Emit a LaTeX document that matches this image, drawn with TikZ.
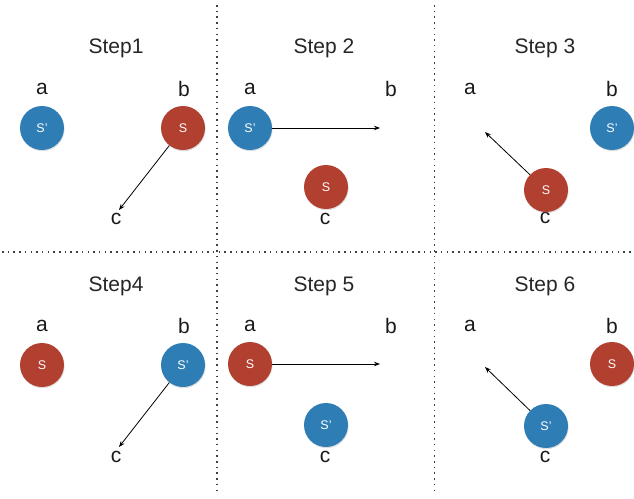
\documentclass[tikz,border=0pt]{standalone}
\usepackage{fontspec}
\setmainfont{Liberation Sans}
\usetikzlibrary{arrows.meta,shadows}
\definecolor{sblue}{RGB}{46,125,180}
\definecolor{sred}{RGB}{178,64,48}
\tikzset{
  ball/.style={circle,minimum size=44pt,inner sep=0pt,text=white,font=\fontsize{12.5}{14}\selectfont,
    drop shadow={opacity=0.25,shadow xshift=0.6pt,shadow yshift=-1.2pt}},
  blueball/.style={ball,fill=sblue},
  redball/.style={ball,fill=sred},
  title/.style={font=\fontsize{21}{25}\selectfont,text=black!85},
  lbl/.style={font=\fontsize{21}{25}\selectfont,text=black!90},
  arr/.style={-{Stealth[length=6pt,width=4.5pt]},line width=0.8pt},
  sep/.style={line width=1.5pt,black!75,dash pattern=on 1.5pt off 4.2pt}
}
\begin{document}
\begin{tikzpicture}[x=1pt,y=-1pt]
\useasboundingbox (0,0) rectangle (634,498);
% separators
\coordinate (v1t) at (217,5); \coordinate (v1b) at (217,492);
\coordinate (v2t) at (434.5,5); \coordinate (v2b) at (434.5,492);
\coordinate (hl) at (2,252); \coordinate (hr) at (634,252);
\draw[sep] (v1t) -- (v1b);
\draw[sep] (v2t) -- (v2b);
\draw[sep] (hl) -- (hr);
% Step 1
\node[title] (t1) at (116,48) {Step1};
\node[lbl] (la1) at (42,89) {a};
\node[lbl] (lb1) at (184,89) {b};
\node[lbl] (lc1) at (116,219) {c};
\node[blueball] (a1) at (42,128) {S'};
\node[redball] (b1) at (183,128) {S};
\coordinate (e1) at (119,210);
\draw[arr] (b1) -- (e1);
% Step 2
\node[title] (t2) at (324,48) {Step 2};
\node[lbl] (la2) at (250,89) {a};
\node[lbl] (lb2) at (391,89) {b};
\node[lbl] (lc2) at (325,219) {c};
\node[blueball] (a2) at (250,128) {S'};
\node[redball] (c2) at (326,187) {S};
\coordinate (e2) at (380,128);
\draw[arr] (a2) -- (e2);
% Step 3
\node[title] (t3) at (545,48) {Step 3};
\node[lbl] (la3) at (470,89) {a};
\node[lbl] (lb3) at (612,89) {b};
\node[lbl] (lc3) at (545,218) {c};
\node[blueball] (b3) at (612,128) {S'};
\node[redball] (c3) at (546,190) {S};
\coordinate (e3) at (485,132);
\draw[arr] (c3) -- (e3);
% Step 4
\node[title] (t4) at (116,286) {Step4};
\node[lbl] (la4) at (42,326) {a};
\node[lbl] (lb4) at (184,326) {b};
\node[lbl] (lc4) at (116,457) {c};
\node[redball] (a4) at (42,365) {S};
\node[blueball] (b4) at (183,365) {S'};
\coordinate (e4) at (119,447);
\draw[arr] (b4) -- (e4);
% Step 5
\node[title] (t5) at (324,286) {Step 5};
\node[lbl] (la5) at (250,326) {a};
\node[lbl] (lb5) at (391,326) {b};
\node[lbl] (lc5) at (325,457) {c};
\node[redball] (a5) at (250,364) {S};
\node[blueball] (c5) at (326,425) {S'};
\coordinate (e5) at (380,364);
\draw[arr] (a5) -- (e5);
% Step 6
\node[title] (t6) at (545,286) {Step 6};
\node[lbl] (la6) at (470,326) {a};
\node[lbl] (lb6) at (612,326) {b};
\node[lbl] (lc6) at (545,457) {c};
\node[redball] (b6) at (612,364) {S};
\node[blueball] (c6) at (546,426) {S'};
\coordinate (e6) at (485,367);
\draw[arr] (c6) -- (e6);
\end{tikzpicture}
\end{document}
